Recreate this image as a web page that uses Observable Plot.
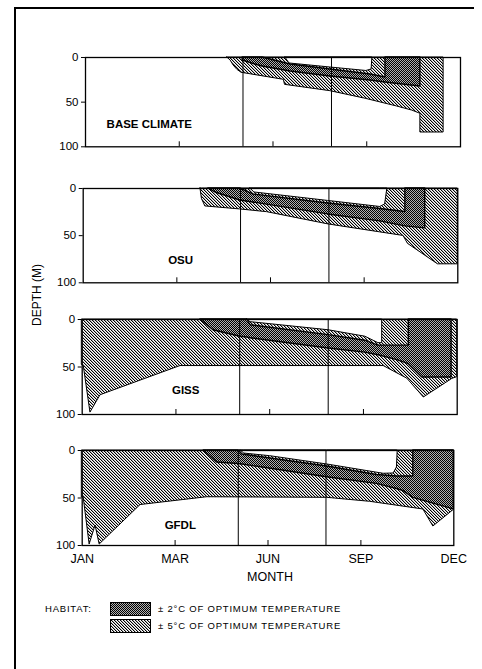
<!DOCTYPE html>
<html><head><meta charset="utf-8">
<script src="https://cdn.jsdelivr.net/npm/d3@7"></script>
<script src="https://cdn.jsdelivr.net/npm/@observablehq/plot@0.6"></script>
<style>
body{margin:0;background:#fff;font-family:"Liberation Sans",Arial,Helvetica,sans-serif;color:#000;}
#root{position:relative;width:482px;height:669px;overflow:hidden;background:#fff;}
.abs{position:absolute;white-space:nowrap;}
</style></head><body>
<svg width="0" height="0" style="position:absolute;left:0;top:0">
<defs>
<pattern id="hab5" width="3" height="3" patternUnits="userSpaceOnUse">
<rect width="3" height="3" fill="#fff"/>
<path d="M1,0h1v1h-1z M2,1h1v1h-1z M0,2h1v1h-1z" fill="#b0b0b0"/>
<path d="M0,0h1v1h-1z M1,1h1v1h-1z M2,2h1v1h-1z" fill="#000"/>
</pattern>
<pattern id="hab2" width="2" height="2" patternUnits="userSpaceOnUse">
<rect width="2" height="2" fill="#b0b0b0"/>
<path d="M0,0h1v1h-1z M1,1h1v1h-1z" fill="#000"/>
</pattern>
</defs></svg>
<div id="root"></div>
<script>
// ---- data (x: position along the year, 0 = JAN ... 100 = DEC; depth in metres) ----
const monthTicks = [0, 25, 50, 75, 100];
const monthLabels = ["JAN", "MAR", "JUN", "SEP", "DEC"];
const depthTicks = [0, 50, 100];
const seasonLines = [42, 65.6];
const panelNames = ["BASE CLIMATE", "OSU", "GISS", "GFDL"];
const labelPos = [[17, 75], [26, 76], [27.6, 74.4], [26.4, 79]];

// ±5°C habitat: [x, lower depth] (upper depth = surface)
const base5 = [[37.8,0],[38.7,3.4],[39.5,9],[40.5,13.8],[41.6,17.1],[52.9,25],[53.2,30.6],[65.3,37.7],[74.7,46.2],[83.1,54.9],[87.1,59.4],[89.3,63],[89.3,84],[95.5,84]];
const osu5  = [[31.3,0],[31.7,11.1],[32.6,19],[41.9,22.2],[49.1,25.1],[65.5,38.1],[85.5,50.3],[86.7,58.7],[94.7,80.4],[100,80.4]];
const giss5 = [[0,48],[0.4,48.5],[2.2,98],[4.9,79.7],[26.2,49],[80.4,49],[86.7,62.3],[91.1,82.1],[98.7,62.5],[100,60.7]];
const gfdl5 = [[0,49.5],[0.4,49.5],[2,99],[3.6,79],[4.7,99],[15.7,57.4],[33.6,49.2],[65.9,49.8],[77.5,54],[91.8,62.1],[94.5,80],[100,62.5]];

// ±2°C habitat: [x, upper depth, lower depth]
const base2 = [[41.9,0,3.4],[45.3,0,7.8],[47.2,0,10.1],[54.7,7.8,15.7],[65.3,13.4,21.3],[76,19,25.8],[80,22.4,28],[80,0,28],[89.3,0,32.5]];
const osu2  = [[33.4,0,0],[35.3,0,4.2],[41.9,0,12.7],[45.4,6.3,14.8],[65.4,15.9,27.5],[79.3,21.7,34.9],[86,24.9,40.2],[86,0,40.2],[91.3,0,42.3]];
const giss2 = [[31.5,0,0],[35,0,11.3],[42.2,0,18.1],[44,0,19],[44.9,6,19.7],[65.7,16.5,30.5],[75.5,22.3,34.9],[79,27.5,37.6],[84,27.5,42.8],[87.1,27.5,47],[87.1,0,47],[90.7,0,61],[98.5,0,61]];
const gfdl2 = [[32.7,0,0],[36.3,0,12.6],[42.1,0,14.2],[43.1,4.2,14.7],[65.9,16.8,28.1],[79.3,25.8,35.1],[84.7,27.4,40.5],[86.5,27.4,42.8],[89.1,27.4,49.8],[89.1,0,49.8],[100,0,62]];

// too-warm surface layer (no habitat): [x, lower depth]
const baseWarm = [[53.3,0],[54.4,6.7],[65.3,11.2],[74.9,15.1],[76.3,13.4],[76.5,0]];
const osuWarm  = [[44.6,0],[45.7,4.2],[65.4,13.2],[79.3,19.6],[80.6,16.9],[81.2,0]];
const gissWarm = [[44,0],[44.9,2.8],[65.7,11.3],[75.5,18.1],[79,24.9],[80,24.9]];
const gfdlWarm = [[42.6,0],[43.6,3.2],[50.6,6],[65.9,14.7],[81.1,24.5],[83.8,24.2],[84.7,17.9],[84.9,0]];

// ---- layout (pixels) ----
const layout = [
  {top: 57, h: 89.3, left: 85, right: 460},
  {top: 188, h: 94.3, left: 82.7, right: 457.3},
  {top: 319.3, h: 95, left: 81.7, right: 456.7},
  {top: 450, h: 95, left: 81.7, right: 453.3}
];
const outer = [base5, osu5, giss5, gfdl5];
const inner = [base2, osu2, giss2, gfdl2];
const warm = [baseWarm, osuWarm, gissWarm, gfdlWarm];
const FONT = '"Liberation Sans", Arial, Helvetica, sans-serif';

const root = document.getElementById("root");

function addDiv(html, css) {
  const d = document.createElement("div");
  d.className = "abs";
  d.innerHTML = html;
  Object.assign(d.style, css);
  root.appendChild(d);
  return d;
}

// outer border
addDiv("", {left: "14px", top: "7px", width: "458px", height: "680px", borderTop: "2px solid #000", borderLeft: "2px solid #000"});

layout.forEach((L, i) => {
  const last = i === 3;
  const mt = 10, mb = last ? 32 : 10;
  const o = outer[i].map(([x, b]) => ({x, t: 0, b}));
  const n = inner[i].map(([x, t, b]) => ({x, t, b}));
  const w = warm[i].map(([x, b]) => ({x, t: 0, b}));
  const marks = [
    Plot.areaY(o, {x: "x", y1: "t", y2: "b", fill: "url(#hab5)", stroke: "#000", strokeWidth: 1}),
    Plot.areaY(n, {x: "x", y1: "t", y2: "b", fill: "url(#hab2)", stroke: "#000", strokeWidth: 1.4}),
    Plot.areaY(w, {x: "x", y1: "t", y2: "b", fill: "#fff", stroke: "#000", strokeWidth: 1}),
    Plot.ruleX(seasonLines, {x: d => d, stroke: "#000", strokeWidth: 1}),
    Plot.tickX(monthTicks.slice(1, 4), {x: d => d, insetTop: L.h - 5, stroke: "#000", strokeWidth: 1}),
    Plot.frame({stroke: "#000", strokeWidth: 1.3}),
    Plot.axisY(depthTicks, {tickSize: 4, tickPadding: 3, label: null, fontSize: 11.5}),
    Plot.text([labelPos[i]], {x: d => d[0], y: d => d[1], text: () => panelNames[i], fontWeight: "bold", fontSize: 11.5})
  ];
  if (last) {
    marks.push(Plot.axisX(monthTicks, {tickSize: 0, tickPadding: 9, label: null, fontSize: 12.5,
      tickFormat: d => monthLabels[monthTicks.indexOf(d)]}));
  }
  const chart = Plot.plot({
    width: 482,
    height: mt + L.h + mb,
    marginTop: mt, marginBottom: mb,
    marginLeft: L.left, marginRight: 482 - L.right,
    x: {domain: [0, 100], axis: last ? undefined : null},
    y: {domain: [0, 100], reverse: true},
    style: {fontFamily: FONT, color: "#000", background: "transparent", overflow: "visible"},
    marks
  });
  chart.style.position = "absolute";
  chart.style.left = "0px";
  chart.style.top = (L.top - mt) + "px";
  root.appendChild(chart);
});

// axis titles
addDiv("MONTH", {left: "270px", top: "577px", transform: "translate(-50%,-50%)", fontSize: "12.5px"});
addDiv("DEPTH (M)", {left: "37px", top: "295px", transform: "translate(-50%,-50%) rotate(-90deg)", fontSize: "12px"});

// legend
const legendRows = [
  {fill: "url(#hab2)", text: "± 2°C OF OPTIMUM TEMPERATURE", y: 608.5},
  {fill: "url(#hab5)", text: "± 5°C OF OPTIMUM TEMPERATURE", y: 626}
];
addDiv("HABITAT:", {left: "45px", top: (608.5 - 6) + "px", lineHeight: "12px", fontSize: "9.5px", letterSpacing: "0.8px"});
legendRows.forEach(r => {
  addDiv(`<svg width="42" height="14"><rect x="0.5" y="0.5" width="40" height="13" fill="${r.fill}" stroke="#000"/></svg>`,
    {left: "110px", top: (r.y - 7) + "px", lineHeight: "0"});
  addDiv(r.text, {left: "158px", top: (r.y - 6) + "px", lineHeight: "12px", fontSize: "9.5px", letterSpacing: "0.8px"});
});
</script>
</body></html>
